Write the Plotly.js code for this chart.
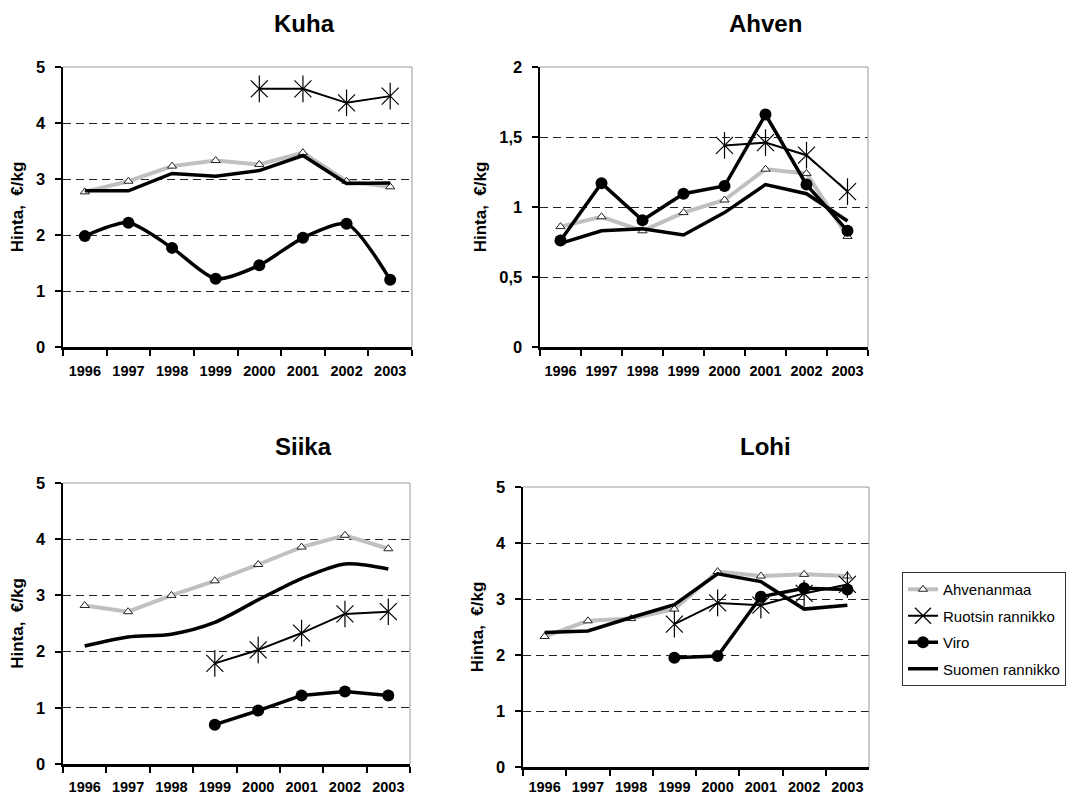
<!DOCTYPE html>
<html>
<head>
<meta charset="utf-8">
<script src="https://cdn.plot.ly/plotly-3.0.1.min.js"></script>
<style>html,body{margin:0;padding:0;background:#fff;}#chart{width:1072px;height:798px;}</style>
</head>
<body>
<div id="chart"></div>
<script>
// ---- Data ----
const years = ['1996','1997','1998','1999','2000','2001','2002','2003'];
const seriesNames = ['Ahvenanmaa','Ruotsin rannikko','Viro','Suomen rannikko'];
const panelTitles = ['Kuha','Ahven','Siika','Lohi'];
const yTitle = 'Hinta,\u00a0 €/kg';

const kuhaAhvenanmaa = [2.77, 2.96, 3.23, 3.33, 3.26, 3.47, 2.96, 2.86];
const kuhaRuotsin    = [null, null, null, null, 4.61, 4.61, 4.36, 4.48];
const kuhaViro       = [1.98, 2.22, 1.77, 1.22, 1.46, 1.95, 2.20, 1.20];
const kuhaSuomen     = [2.79, 2.79, 3.10, 3.05, 3.15, 3.42, 2.92, 2.93];

const ahvenAhvenanmaa = [0.86, 0.93, 0.83, 0.96, 1.05, 1.27, 1.24, 0.79];
const ahvenRuotsin    = [null, null, null, null, 1.44, 1.46, 1.37, 1.11];
const ahvenViro       = [0.76, 1.17, 0.905, 1.095, 1.15, 1.66, 1.16, 0.83];
const ahvenSuomen     = [0.74, 0.83, 0.845, 0.80, 0.96, 1.16, 1.095, 0.90];

const siikaAhvenanmaa = [2.82, 2.71, 3.00, 3.26, 3.55, 3.86, 4.07, 3.83];
const siikaRuotsin    = [null, null, null, 1.79, 2.03, 2.33, 2.67, 2.71];
const siikaViro       = [null, null, null, 0.70, 0.95, 1.22, 1.29, 1.22];
const siikaSuomen     = [2.10, 2.26, 2.31, 2.52, 2.92, 3.30, 3.56, 3.47];

const lohiAhvenanmaa = [2.33, 2.61, 2.65, 2.82, 3.49, 3.41, 3.44, 3.41];
const lohiRuotsin    = [null, null, null, 2.55, 2.93, 2.89, 3.10, 3.26];
const lohiViro       = [null, null, null, 1.95, 1.98, 3.04, 3.19, 3.17];
const lohiSuomen     = [2.40, 2.43, 2.67, 2.90, 3.45, 3.31, 2.82, 2.89];

const yMax = [5, 2, 5, 5];
const yStep = [1, 0.5, 1, 1];

// ---- Layout geometry (pixels) ----
const W = 1072, H = 798;
const FONT = 'Liberation Sans, Arial, Helvetica, sans-serif';
const panels = [
  {x0: 63,  x1: 412, y0: 67,  y1: 347, tx: 304, ty: 23,  standoff: 8, xso: 9},
  {x0: 540, x1: 868, y0: 67,  y1: 347, tx: 765, ty: 23,  standoff: 9, xso: 9},
  {x0: 63,  x1: 410, y0: 483, y1: 764, tx: 303, ty: 446, standoff: 8, xso: 8},
  {x0: 523, x1: 869, y0: 487, y1: 767, tx: 765, ty: 446, standoff: 8, xso: 5}
];
const data4 = [
  [kuhaAhvenanmaa, kuhaRuotsin, kuhaViro, kuhaSuomen],
  [ahvenAhvenanmaa, ahvenRuotsin, ahvenViro, ahvenSuomen],
  [siikaAhvenanmaa, siikaRuotsin, siikaViro, siikaSuomen],
  [lohiAhvenanmaa, lohiRuotsin, lohiViro, lohiSuomen]
];
// which lines are smoothed in the original
const smoothViro = [true, false, false, false];
const smoothSuomen = [false, false, true, false];

const traces = [];
const layout = {
  width: W, height: H,
  margin: {l: 0, r: 0, t: 0, b: 0},
  paper_bgcolor: '#fff', plot_bgcolor: '#fff',
  separators: ', ',
  showlegend: true,
  font: {family: FONT, color: '#000'},
  legend: {
    x: 902 / W, y: 1 - 572 / H, xanchor: 'left', yanchor: 'top',
    bordercolor: '#333', borderwidth: 1, bgcolor: '#fff',
    font: {family: FONT, size: 15, color: '#000'},
    traceorder: 'grouped', tracegroupgap: 4
  },
  annotations: [], shapes: []
};

panels.forEach((p, i) => {
  const n = i + 1;
  const xa = 'x' + (n === 1 ? '' : n), ya = 'y' + (n === 1 ? '' : n);
  const d = data4[i];
  const leg = i === 0;
  // Ahvenanmaa
  traces.push({x: years, y: d[0], xaxis: xa, yaxis: ya, type: 'scatter', mode: 'lines+markers',
    name: seriesNames[0], legendgroup: 'a', showlegend: leg, connectgaps: false,
    line: {color: '#c0c0c0', width: 4},
    marker: {symbol: 'triangle-up', size: 8, color: '#fff', line: {color: '#222', width: 1}}});
  // Ruotsin rannikko
  traces.push({x: years, y: d[1], xaxis: xa, yaxis: ya, type: 'scatter', mode: 'lines+markers',
    name: seriesNames[1], legendgroup: 'b', showlegend: leg,
    line: {color: '#000', width: 2},
    marker: {symbol: 'x-thin-open', size: 17, color: '#000', line: {color: '#000', width: 1.2}}});
  traces.push({x: years, y: d[1], xaxis: xa, yaxis: ya, type: 'scatter', mode: 'markers',
    name: seriesNames[1], legendgroup: 'b', showlegend: false, hoverinfo: 'skip',
    marker: {symbol: 'line-ns-open', size: 19, color: '#000', line: {color: '#000', width: 1.2}}});
  // Viro
  traces.push({x: years, y: d[2], xaxis: xa, yaxis: ya, type: 'scatter', mode: 'lines+markers',
    name: seriesNames[2], legendgroup: 'c', showlegend: leg,
    line: {color: '#000', width: 3.5, shape: smoothViro[i] ? 'spline' : 'linear', smoothing: 0.7},
    marker: {symbol: 'circle', size: 12, color: '#000'}});
  // Suomen rannikko
  traces.push({x: years, y: d[3], xaxis: xa, yaxis: ya, type: 'scatter', mode: 'lines',
    name: seriesNames[3], legendgroup: 'd', showlegend: leg,
    line: {color: '#000', width: 3.5, shape: smoothSuomen[i] ? 'spline' : 'linear', smoothing: 0.8}});

  layout['xaxis' + (n === 1 ? '' : n)] = {
    domain: [p.x0 / W, p.x1 / W], anchor: ya,
    type: 'category', range: [-0.5, 7.5], tickson: 'boundaries', tickangle: 0,
    ticks: 'outside', ticklen: 6, tickwidth: 2, tickcolor: '#000',
    showline: true, linewidth: 2.5, linecolor: '#000', showgrid: false, zeroline: false,
    tickfont: {family: FONT, size: 14.5, weight: 'bold', color: '#000'},
    ticklabelstandoff: p.xso, fixedrange: true
  };
  layout['yaxis' + (n === 1 ? '' : n)] = {
    domain: [1 - p.y1 / H, 1 - p.y0 / H], anchor: xa,
    range: [0, yMax[i]], tick0: 0, dtick: yStep[i],
    ticks: 'outside', ticklen: 6, tickwidth: 2, tickcolor: '#000',
    showline: true, linewidth: 2.5, linecolor: '#000', zeroline: false,
    showgrid: true, gridcolor: '#222', gridwidth: 1, griddash: '8px,5px',
    tickfont: {family: FONT, size: 16.5, weight: 'bold', color: '#000'},
    ticklabelstandoff: 6, fixedrange: true,
    title: {text: yTitle, standoff: p.standoff, font: {family: FONT, size: 17, weight: 'bold', color: '#000'}}
  };
  layout.annotations.push({
    text: panelTitles[i], xref: 'paper', yref: 'paper', x: p.tx / W, y: 1 - p.ty / H,
    xanchor: 'center', yanchor: 'middle', showarrow: false,
    font: {family: FONT, size: 24, weight: 'bold', color: '#000'}
  });
  layout.shapes.push({type: 'line', xref: xa + ' domain', yref: ya + ' domain', x0: 0, x1: 1, y0: 1, y1: 1,
    line: {color: '#999', width: 1}, layer: 'above'});
  layout.shapes.push({type: 'line', xref: xa + ' domain', yref: ya + ' domain', x0: 1, x1: 1, y0: 0, y1: 1,
    line: {color: '#999', width: 1}, layer: 'above'});
});

Plotly.newPlot('chart', traces, layout, {displayModeBar: false, staticPlot: true});
</script>
</body>
</html>
